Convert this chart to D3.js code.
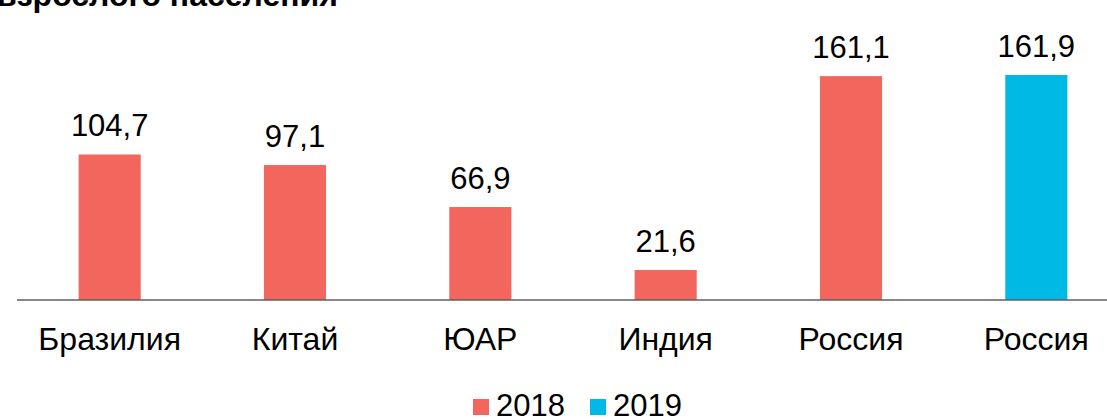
<!DOCTYPE html>
<html>
<head>
<meta charset="utf-8">
<script src="https://cdn.jsdelivr.net/npm/d3@7"></script>
<style>
  html, body { margin: 0; padding: 0; background: #fff; }
  svg { display: block; font-family: "Liberation Sans", Arial, sans-serif; }
</style>
</head>
<body>
<svg id="chart" width="1107" height="419"></svg>
<script>
const titleText = "взрослого населения";
const categories = ["Бразилия", "Китай", "ЮАР", "Индия", "Россия", "Россия"];
const years = ["2018", "2018", "2018", "2018", "2018", "2019"];
const values = [104.7, 97.1, 66.9, 21.6, 161.1, 161.9];
const legendYears = ["2018", "2019"];
const colors = { "2018": "#F2665E", "2019": "#00BAE5" };

const data = categories.map((c, i) => ({ key: i, cat: c, year: years[i], value: values[i] }));

const svg = d3.select("#chart");
const W = 1107, H = 419;

const x = d3.scaleBand().domain(data.map(d => d.key)).range([17, 1129]).padding(0);
const y = d3.scaleLinear().domain([0, 161.9]).range([300, 75]);
const barW = x.bandwidth() * 0.335;
const fmt = v => d3.format(".1f")(v).replace(".", ",");

// title (clipped at top, as in the reference)
svg.append("text")
  .attr("x", -3).attr("y", 6)
  .attr("font-size", 32).attr("font-weight", "bold").attr("fill", "#000")
  .text(titleText);

// bars
svg.append("g").selectAll("rect").data(data).join("rect")
  .attr("x", d => x(d.key) + x.bandwidth() / 2 - barW / 2)
  .attr("width", barW)
  .attr("y", d => y(d.value))
  .attr("height", d => y(0) - y(d.value))
  .attr("fill", d => colors[d.year]);

// axis baseline
const axis = d3.axisBottom(x).tickSize(0).tickFormat(k => data[k].cat);
const ag = svg.append("g").attr("transform", `translate(0,${y(0)})`).call(axis);
ag.select(".domain").attr("stroke", "#5f5f5f").attr("stroke-width", 1.6).attr("d", `M17,0H${W}`);
ag.selectAll(".tick text")
  .attr("font-size", 32).attr("fill", "#000")
  .attr("font-family", "Liberation Sans, Arial, sans-serif")
  .attr("dy", null).attr("y", 50);

// value labels
svg.append("g").selectAll("text").data(data).join("text")
  .attr("x", d => x(d.key) + x.bandwidth() / 2)
  .attr("y", d => y(d.value) - 18)
  .attr("text-anchor", "middle")
  .attr("font-size", 31).attr("fill", "#000")
  .text(d => fmt(d.value));

// legend
const legendX = [473, 590];
const lg = svg.append("g").selectAll("g").data(legendYears).join("g")
  .attr("transform", (d, i) => `translate(${legendX[i]},399)`);
lg.append("rect").attr("width", 16).attr("height", 16).attr("fill", d => colors[d]);
lg.append("text").attr("x", 23).attr("y", 17).attr("font-size", 31).attr("fill", "#000").text(d => d);
</script>
</body>
</html>
